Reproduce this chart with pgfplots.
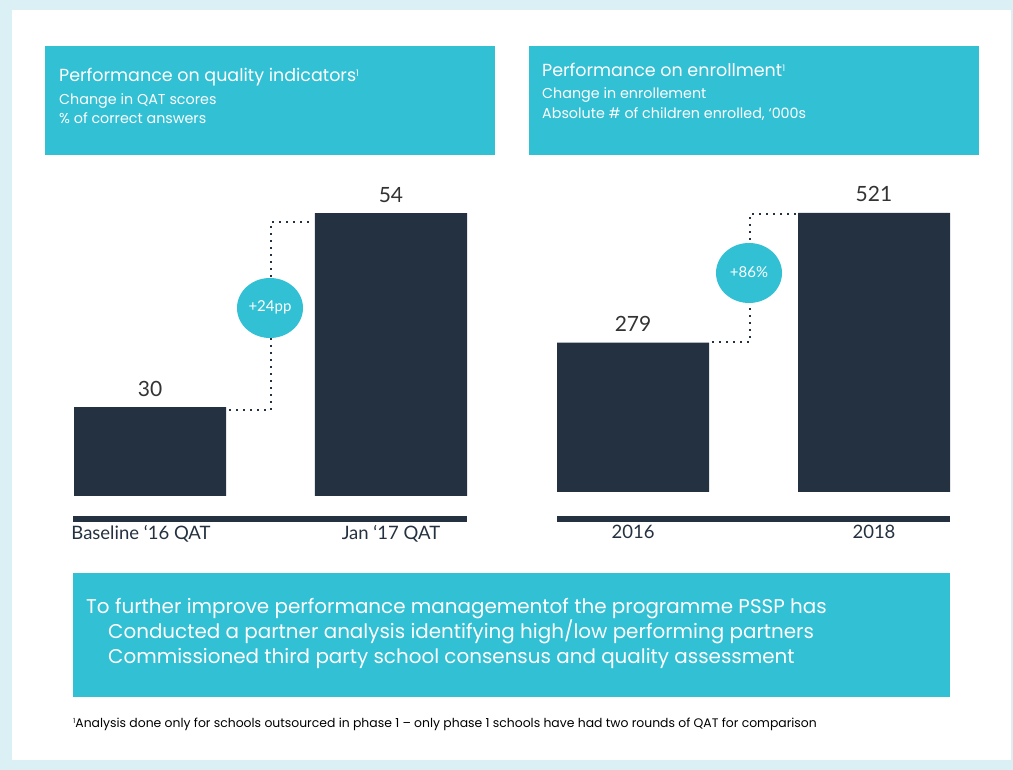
\documentclass[border=0pt]{standalone}
\usepackage{pgfplots}
\pgfplotsset{compat=1.18}
\usepackage{fontspec}
\setmainfont{Poppins}
\newfontfamily\labelfont{Lato}
\definecolor{bgc}{RGB}{218,240,245}
\definecolor{tealc}{RGB}{49,192,212}
\definecolor{navy}{RGB}{36,49,64}
\definecolor{numc}{RGB}{51,51,51}
\pgfplotsset{
  barpanel/.style={
    anchor=south west, scale only axis, width=393bp,
    xmin=-0.3154, xmax=1.3154,
    axis line style={draw=none}, major tick length=0pt, ytick=\empty,
    xtick={0,1},
    xticklabel style={anchor=base, inner sep=0pt, font=\labelfont\fontsize{18.5bp}{20bp}\selectfont, text=navy},
    ybar, bar width=152bp,
    nodes near coords,
    every node near coord/.append style={anchor=base, yshift=11bp, inner sep=0pt, font=\labelfont\fontsize{21bp}{24bp}\selectfont, text=numc},
    /pgf/number format/assume math mode=true,
  }
}
\begin{document}
\begin{tikzpicture}[x=1bp,y=1bp]
\fill[bgc] (0,0) rectangle (1013,770);
\fill[white] (12,10) rectangle (1011,760);
% headers
\fill[tealc] (45,615) rectangle (495,724);
\fill[tealc] (529,615) rectangle (979,724);
\node[anchor=base west, inner sep=0pt, text=white, font=\fontsize{17.5bp}{20bp}\selectfont] at (59,688) {Performance on quality indicators\raisebox{5bp}{\fontsize{9bp}{10bp}\selectfont 1}};
\node[anchor=base west, inner sep=0pt, text=white, font=\fontsize{14.3bp}{17bp}\selectfont] at (59,665) {Change in QAT scores};
\node[anchor=base west, inner sep=0pt, text=white, font=\fontsize{14.3bp}{17bp}\selectfont] at (59,646) {\% of correct answers};
\node[anchor=base west, inner sep=0pt, text=white, font=\fontsize{17.5bp}{20bp}\selectfont] at (542,693) {Performance on enrollment\raisebox{5bp}{\fontsize{9bp}{10bp}\selectfont 1}};
\node[anchor=base west, inner sep=0pt, text=white, font=\fontsize{14.3bp}{17bp}\selectfont] at (542,671) {Change in enrollement};
\node[anchor=base west, inner sep=0pt, text=white, font=\fontsize{14.3bp}{17bp}\selectfont] at (542,651) {Absolute \# of children enrolled, ‘000s};
% left chart
\begin{axis}[barpanel, at={(74bp,274bp)}, height=331.4bp, ymin=19, ymax=60,
  xticklabels={\hspace*{-18bp}Baseline ‘16 QAT, Jan ‘17 QAT},
  xticklabel style={yshift=-44bp}]
\addplot[fill=navy, draw=none] coordinates {(0,30) (1,54)};
\end{axis}
% right chart
\begin{axis}[barpanel, at={(557bp,278bp)}, height=321.3bp, ymin=0, ymax=600,
  xticklabels={2016, 2018},
  xticklabel style={yshift=-47bp}]
\addplot[fill=navy, draw=none] coordinates {(0,279) (1,521)};
\end{axis}
% baselines
\draw[navy, line width=6bp] (73,251) -- (467,251);
\draw[navy, line width=6bp] (557,251) -- (950,251);
% connectors
\draw[navy, line width=2bp, dash pattern=on 2bp off 5bp] (229,360) -- (271,360) -- (271,548) -- (313,548);
\draw[navy, line width=2bp, dash pattern=on 2bp off 5bp] (712,428) -- (750,428) -- (750,556) -- (796,556);
\fill[tealc] (270,462) ellipse [x radius=33, y radius=30];
\node[text=white, font=\labelfont\fontsize{15bp}{17bp}\selectfont] at (270,463) {+24pp};
\fill[tealc] (749,497) ellipse [x radius=33, y radius=30];
\node[text=white, font=\labelfont\fontsize{15bp}{17bp}\selectfont] at (749,498) {+86\%};
% bottom box
\fill[tealc] (73,73) rectangle (950,197);
\node[anchor=base west, inner sep=0pt, text=white, font=\fontsize{19.9bp}{22bp}\selectfont] at (86,156) {To further improve performance managementof the programme PSSP has};
\node[anchor=base west, inner sep=0pt, text=white, font=\fontsize{19.9bp}{22bp}\selectfont] at (108,131) {Conducted a partner analysis identifying high/low performing partners};
\node[anchor=base west, inner sep=0pt, text=white, font=\fontsize{19.9bp}{22bp}\selectfont] at (108,106) {Commissioned third party school consensus and quality assessment};
% footnote
\node[anchor=base west, inner sep=0pt, text=black, font=\fontsize{12.4bp}{14bp}\selectfont] at (73,42) {\raisebox{4bp}{\fontsize{7bp}{8bp}\selectfont 1}Analysis done only for schools outsourced in phase 1 -- only phase 1 schools have had two rounds of QAT for comparison};
\end{tikzpicture}
\end{document}
